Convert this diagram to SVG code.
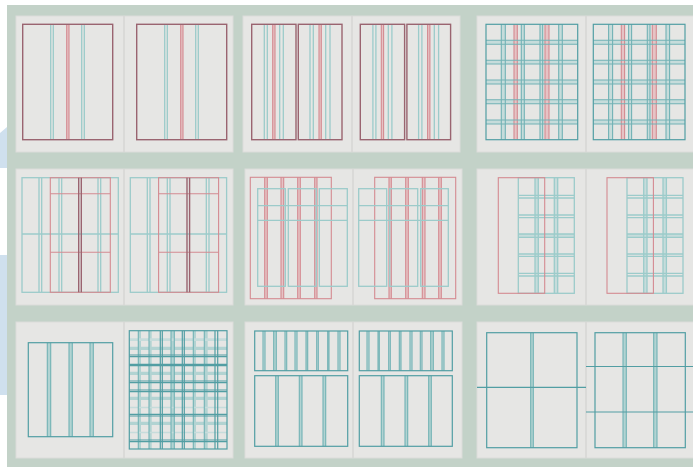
<svg xmlns="http://www.w3.org/2000/svg" xmlns:xlink="http://www.w3.org/1999/xlink" width="693" height="467" viewBox="0 0 693 467">
<style>
.bg{fill:#c3d2c8}
.pn{fill:#e6e6e4;stroke:#dcdcda;stroke-width:1}
.dv{stroke:#d6d6d4;stroke-width:1.5}
.mr{fill:none;stroke:#9a6470;stroke-width:1.4}
.r{fill:none;stroke:#d48a91;stroke-width:1.1}
.rl{fill:none;stroke:#e0aeb1;stroke-width:1}
.rb{fill:#e6c3c5}
.t{fill:none;stroke:#529ea3;stroke-width:1.2}
.tm{fill:none;stroke:#72b2b5;stroke-width:1.1}
.tl{fill:none;stroke:#9ccbca;stroke-width:1.3}
.tb{fill:#b2d3d2}
.tbl{fill:#c6dcdb}
</style>
<rect x="0" y="0" width="693" height="467" fill="#ffffff"/>
<polygon points="0,133 7,127 7,168 0,168" fill="#cfe0ee"/>
<rect x="0" y="255" width="7" height="140" fill="#cfe0ee"/>
<rect class="bg" x="7" y="5" width="686" height="462"/>

<!-- Row 1 -->
<g id="r1s1">
<rect class="pn" x="16" y="16" width="217" height="136"/>
<line class="dv" x1="124" y1="16" x2="124" y2="152"/>
<g id="r1s1L">
<rect class="rb" x="66.7" y="24.3" width="2.3" height="115.4"/>
<path class="r" d="M66.7 24.3V139.7M69 24.3V139.7"/>
<path class="tl" d="M50.7 24.3V139.7M53.3 24.3V139.7M81.7 24.3V139.7M84.3 24.3V139.7"/>
<rect class="mr" x="22.7" y="24.3" width="90" height="115.4"/>
</g>
<use xlink:href="#r1s1L" x="114"/>
</g>

<g id="r1s2">
<rect class="pn" x="243" y="16" width="217" height="136"/>
<line class="dv" x1="352" y1="16" x2="352" y2="152"/>
<g id="r1s2L">
<rect class="rb" x="272.7" y="24.3" width="2.3" height="115.4"/>
<rect class="rb" x="319" y="24.3" width="2.3" height="115.4"/>
<path class="r" d="M272.7 24.3V139.7M275 24.3V139.7M319 24.3V139.7M321.3 24.3V139.7"/>
<path class="tl" d="M264.3 24.3V139.7M267.3 24.3V139.7M279.7 24.3V139.7M283.3 24.3V139.7M310 24.3V139.7M313.3 24.3V139.7M325.7 24.3V139.7M330 24.3V139.7"/>
<rect class="mr" x="251.7" y="24.3" width="44.3" height="115.4"/>
<rect class="mr" x="298.3" y="24.3" width="43.7" height="115.4"/>
</g>
<use xlink:href="#r1s2L" x="108.6"/>
</g>

<g id="r1s3">
<rect class="pn" x="477" y="16" width="220" height="136"/>
<line class="dv" x1="586" y1="16" x2="586" y2="152"/>
<g id="r1s3L">
<path class="tbl" d="M486 40.3H577.7V44.3H486ZM486 60.3H577.7V64H486ZM486 80H577.7V84H486ZM486 99.7H577.7V103.7H486ZM486 120H577.7V124H486Z"/>
<path class="tbl" d="M501.3 24.3H505.3V139.7H501.3ZM521.3 24.3H524.3V139.7H521.3ZM540 24.3H542.7V139.7H540ZM558.7 24.3H562.3V139.7H558.7Z"/>
<rect class="rb" x="514" y="24.3" width="3.3" height="115.4"/>
<rect class="rb" x="545" y="24.3" width="4" height="115.4"/>
<path class="r" d="M514 24.3V139.7M517.3 24.3V139.7M545 24.3V139.7M549 24.3V139.7"/>
<path class="tm" d="M486 40.3H577.7M486 44.3H577.7M486 60.3H577.7M486 64H577.7M486 80H577.7M486 84H577.7M486 99.7H577.7M486 103.7H577.7M486 120H577.7M486 124H577.7"/>
<path class="tm" d="M501.3 24.3V139.7M505.3 24.3V139.7M521.3 24.3V139.7M524.3 24.3V139.7M540 24.3V139.7M542.7 24.3V139.7M558.7 24.3V139.7M562.3 24.3V139.7"/>
<rect class="t" x="486" y="24.3" width="91.7" height="115.4"/>
</g>
<use xlink:href="#r1s3L" x="107.3"/>
</g>

<!-- Row 2 -->
<g id="r2s1">
<rect class="pn" x="16" y="169" width="217" height="136"/>
<line class="dv" x1="124" y1="169" x2="124" y2="305"/>
<g id="r2s1L">
<path class="tl" d="M39 177.7V292.3M41.7 177.7V292.3M59 177.7V292.3M61.7 177.7V292.3M98 177.7V292.3M100.7 177.7V292.3M22 234H118.3"/>
<rect class="tl" x="22" y="177.7" width="96.3" height="114.6"/>
<path class="r" d="M50.3 193.7H110.3M50.3 252.3H110.3"/>
<rect class="r" x="50.3" y="177.7" width="60" height="114.6" stroke-width="1.4"/>
<path class="mr" d="M78.7 177.7V292.3M81.3 177.7V292.3"/>
</g>
<use xlink:href="#r2s1L" x="108.3"/>
</g>

<g id="r2s2">
<rect class="pn" x="245" y="169" width="217" height="136"/>
<line class="dv" x1="353" y1="169" x2="353" y2="305"/>
<g id="r2s2L">
<path class="rb" d="M264.7 177.3H267.3V298.7H264.7ZM281 177.3H283.7V298.7H281ZM297.7 177.3H300.3V298.7H297.7ZM314.7 177.3H317V298.7H314.7Z"/>
<path class="r" d="M264.7 177.3V298.7M267.3 177.3V298.7M281 177.3V298.7M283.7 177.3V298.7M297.7 177.3V298.7M300.3 177.3V298.7M314.7 177.3V298.7M317 177.3V298.7"/>
<rect class="r" x="250.3" y="177.3" width="81" height="121.4" stroke-width="1.4"/>
<path class="tl" d="M257.7 205.7H347.3M257.7 220.3H347.3"/>
<rect class="tl" x="257.7" y="188.7" width="27.6" height="97.6"/>
<rect class="tl" x="288.3" y="188.7" width="28" height="97.6"/>
<rect class="tl" x="319.3" y="188.7" width="28" height="97.6"/>
</g>
<use xlink:href="#r2s2L" transform="matrix(-1,0,0,1,706,0)"/>
</g>

<g id="r2s3">
<rect class="pn" x="477" y="169" width="220" height="136"/>
<line class="dv" x1="586" y1="169" x2="586" y2="305"/>
<g id="r2s3L">
<path class="tbl" d="M535 177.7H538.3V293.3H535ZM554.3 177.7H557.7V293.3H554.3ZM518.3 234H574.3V237.3H518.3Z"/>
<path class="tl" d="M535 177.7V293.3M538.3 177.7V293.3M554.3 177.7V293.3M557.7 177.7V293.3"/>
<path class="tl" d="M518.3 195.3H574.3M518.3 198H574.3M518.3 215H574.3M518.3 217.7H574.3M518.3 234H574.3M518.3 237.3H574.3M518.3 254H574.3M518.3 256.3H574.3M518.3 273.3H574.3M518.3 276H574.3"/>
<rect class="tl" x="518.3" y="177.7" width="56" height="115.6"/>
<rect class="r" x="498.3" y="177.7" width="46.4" height="115.6"/>
</g>
<use xlink:href="#r2s3L" x="108.7"/>
</g>

<!-- Row 3 -->
<g id="r3s1">
<rect class="pn" x="16" y="322" width="217" height="136"/>
<line class="dv" x1="124" y1="322" x2="124" y2="458"/>
<g id="r3s1L">
<path class="tb" d="M47.3 342.7H50.7V436.7H47.3ZM69 342.7H72.3V436.7H69ZM90 342.7H93.3V436.7H90Z"/>
<path class="tm" d="M47.3 342.7V436.7M50.7 342.7V436.7M69 342.7V436.7M72.3 342.7V436.7M90 342.7V436.7M93.3 342.7V436.7"/>
<rect class="t" x="28.3" y="342.7" width="84.4" height="94"/>
</g>
<g id="r3s1R">
<path class="tb" d="M138.3 330.7H141V449H138.3ZM149 330.7H151.7V449H149ZM171 330.7H174.3V449H171ZM193.3 330.7H196V449H193.3ZM204.3 330.7H207.7V449H204.3Z"/>
<path class="tb" d="M129.3 346.7H227V350H129.3ZM129.3 371.7H227V375H129.3ZM129.3 396.7H227V400H129.3ZM129.3 421.7H227V425H129.3Z"/>
<path class="tbl" d="M129.3 338.3H227V341H129.3ZM129.3 406.7H227V408.3H129.3ZM129.3 431.7H227V433.3H129.3Z"/>
<path class="t" d="M160.3 330.7V449M162.3 330.7V449M182.3 330.7V449M184.3 330.7V449M215 330.7V449M217.7 330.7V449"/>
<path class="tm" d="M138.3 330.7V449M149 330.7V449M171 330.7V449M174.3 330.7V449M193.3 330.7V449M204.3 330.7V449"/>
<path class="t" d="M129.3 355H227M129.3 356.7H227M129.3 364.3H227M129.3 365.7H227M129.3 381H227M129.3 382.7H227M129.3 390H227M129.3 391.7H227M129.3 414.3H227M129.3 416H227M129.3 440H227M129.3 441.7H227"/>
<rect class="t" x="129.3" y="330.7" width="97.7" height="118.3" stroke-width="1.3"/>
</g>
</g>

<g id="r3s2">
<rect class="pn" x="245" y="322" width="217" height="136"/>
<line class="dv" x1="353" y1="322" x2="353" y2="458"/>
<g id="r3s2L">
<path class="tbl" d="M263 331H265V370.7H263ZM285 331H286.7V370.7H285ZM295 331H297V370.7H295ZM316.7 331H318.3V370.7H316.7ZM338 331H340V370.7H338Z"/>
<path class="tb" d="M273.7 331H276.3V370.7H273.7ZM306 331H307.7V370.7H306ZM327.7 331H329V370.7H327.7Z"/>
<path class="tm" d="M263 331V370.7M265 331V370.7M273.7 331V370.7M276.3 331V370.7M285 331V370.7M286.7 331V370.7M295 331V370.7M297 331V370.7M306 331V370.7M307.7 331V370.7M316.7 331V370.7M318.3 331V370.7M327.7 331V370.7M329 331V370.7M338 331V370.7M340 331V370.7"/>
<rect class="t" x="254.7" y="331" width="93" height="39.7"/>
<path class="tb" d="M275.7 375.7H278.3V446.3H275.7ZM299.3 375.7H302V446.3H299.3ZM323 375.7H325.7V446.3H323Z"/>
<path class="tm" d="M275.7 375.7V446.3M278.3 375.7V446.3M299.3 375.7V446.3M302 375.7V446.3M323 375.7V446.3M325.7 375.7V446.3"/>
<rect class="t" x="254.7" y="375.7" width="93" height="70.6"/>
</g>
<use xlink:href="#r3s2L" transform="matrix(-1,0,0,1,707,0)"/>
</g>

<g id="r3s3">
<rect class="pn" x="477" y="322" width="220" height="136"/>
<line class="dv" x1="586" y1="322" x2="586" y2="458"/>
<rect class="tb" x="530.7" y="332.7" width="2.6" height="115"/>
<path class="tm" d="M530.7 332.7V447.7M533.3 332.7V447.7"/>
<rect class="t" x="486.7" y="332.7" width="90.3" height="115"/>
<path class="t" d="M477 387.3H586"/>
<path class="tb" d="M623 332.7H626.3V447.7H623ZM653.7 332.7H657V447.7H653.7Z"/>
<path class="tm" d="M623 332.7V447.7M626.3 332.7V447.7M653.7 332.7V447.7M657 332.7V447.7"/>
<rect class="t" x="595" y="332.7" width="90.3" height="115"/>
<path class="t" d="M586 366.5H693M586 412H693"/>
</g>
</svg>
